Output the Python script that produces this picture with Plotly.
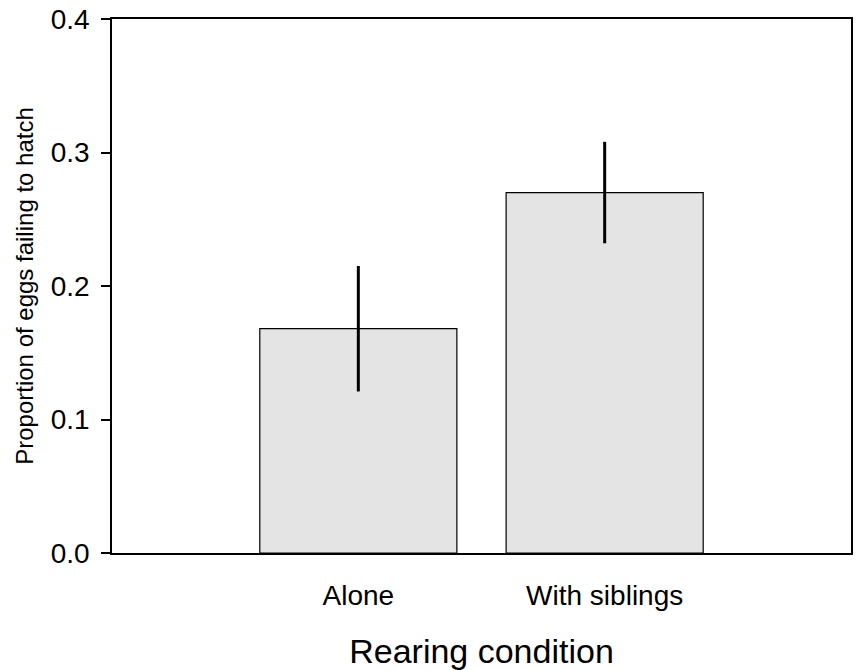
import plotly.graph_objects as go

categories = ["Alone", "With siblings"]
values = [0.168, 0.270]
errors = [0.047, 0.038]
y_ticks = [0.0, 0.1, 0.2, 0.3, 0.4]
y_tick_labels = ["0.0", "0.1", "0.2", "0.3", "0.4"]

fig = go.Figure()
fig.add_trace(go.Bar(
    x=categories, y=values,
    width=0.8,
    marker=dict(color="#e4e4e4", line=dict(color="black", width=1.2)),
    error_y=dict(type="data", array=errors, visible=True, color="black", thickness=3, width=0),
))

font = "Liberation Sans, Arial, sans-serif"
fig.update_layout(
    width=857, height=670,
    margin=dict(l=112, r=4, t=18, b=117),
    paper_bgcolor="white", plot_bgcolor="white",
    showlegend=False,
    font=dict(family=font, color="black"),
    xaxis=dict(
        range=[-1, 2], showline=True, linecolor="black", linewidth=1.5, mirror=True,
        ticks="", showgrid=False, zeroline=False,
        ticklabelstandoff=17,
        tickfont=dict(size=28, family=font, color="black"),
        title=dict(text="Rearing condition", font=dict(size=34, family=font, color="black"), standoff=29),
    ),
    yaxis=dict(
        range=[0, 0.4], showline=True, linecolor="black", linewidth=1.5, mirror=True,
        ticks="outside", ticklen=9, tickwidth=1.5, tickcolor="black",
        tickvals=y_ticks, ticktext=y_tick_labels,
        showgrid=False, zeroline=False,
        ticklabelstandoff=6,
        tickfont=dict(size=28, family=font, color="black"),
        title=dict(text="Proportion of eggs failing to hatch", font=dict(size=24, family=font, color="black"), standoff=10),
    ),
)
fig.write_html("out.html")
